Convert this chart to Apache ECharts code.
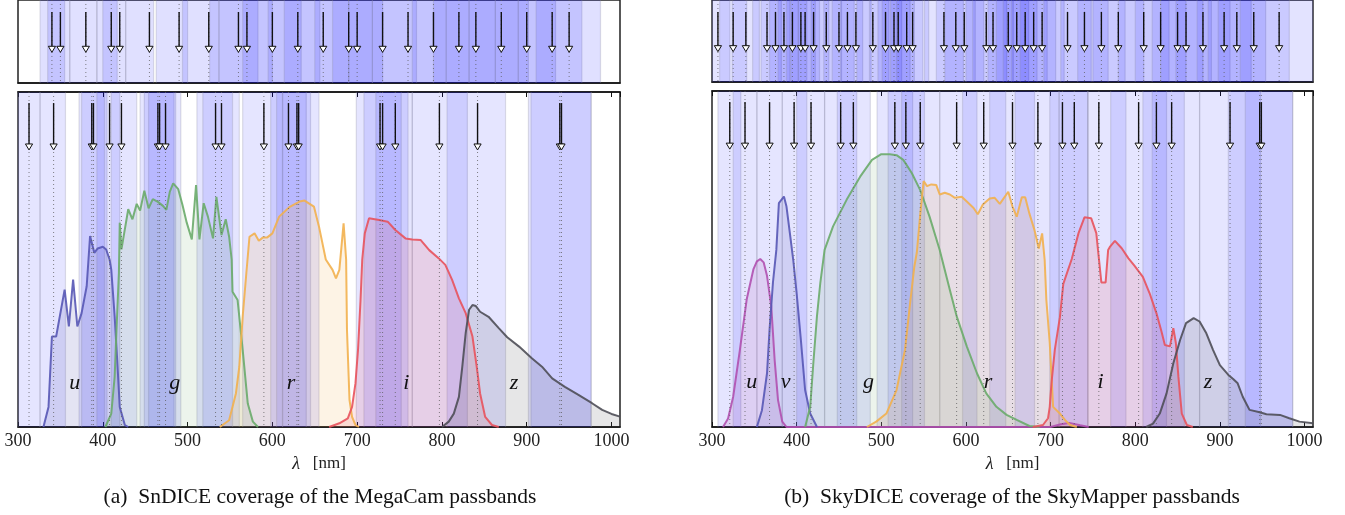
<!DOCTYPE html>
<html><head><meta charset="utf-8">
<script src="https://cdn.jsdelivr.net/npm/echarts/dist/echarts.min.js"></script>
<style>html,body{margin:0;padding:0;background:#fff}#c{width:1345px;height:515px}</style>
</head><body><div id="c"></div>
<script>
// ---------- data ----------
const xMin = 300, xMax = 1010, xStep = 100;

// SnDICE (MegaCam) LEDs, main panel: centre, band low, band high [nm]
const snMainLed = [313, 342, 387, 389, 408, 422, 465, 467, 474, 533, 540, 590, 619, 629, 631, 727, 730, 745, 797, 842, 939, 941];
const snMainLo  = [296, 326, 372, 375, 393, 410, 449, 454, 444, 511, 518, 565, 598, 605, 612, 699, 708, 722, 765, 806, 902, 905];
const snMainHi  = [326, 356, 405, 402, 420, 440, 484, 486, 492, 561, 553, 612, 640, 645, 655, 760, 752, 765, 830, 875, 976, 976];

// SnDICE top strip
const snStripLed = [340, 350, 380, 410, 420, 455, 490, 525, 560, 570, 600, 630, 660, 690, 700, 730, 760, 790, 820, 840, 870, 900, 930, 950];
const snStripLo  = [326, 335, 361, 393, 400, 427, 463, 494, 526, 537, 565, 595, 614, 650, 671, 690, 718, 765, 790, 805, 832, 863, 890, 911];
const snStripHi  = [355, 361, 393, 417, 427, 460, 500, 537, 583, 600, 634, 656, 690, 718, 730, 770, 805, 832, 863, 890, 902, 934, 965, 987];

// SkyDICE (SkyMapper) LEDs, main panel
const skyMainLed = [321, 339, 368, 397, 417, 452, 467, 516, 529, 546, 589, 621, 655, 685, 714, 728, 757, 804, 825, 843, 912, 947, 949];
const skyMainLo  = [307, 325, 353, 383, 400, 433, 448, 495, 508, 524, 569, 596, 628, 658, 699, 710, 744, 771, 809, 820, 876, 910, 930];
const skyMainHi  = [334, 353, 383, 412, 433, 471, 487, 537, 551, 569, 613, 647, 681, 710, 744, 744, 789, 837, 858, 876, 948, 986, 986];

// SkyDICE top strip: centre and half width
const skyStripLed  = [307, 325, 340, 365, 375, 385, 395, 405, 410, 420, 435, 450, 460, 470, 490, 505, 515, 520, 530, 537, 574, 588, 598, 624, 632, 650, 660, 670, 680, 690, 720, 740, 760, 780, 810, 830, 850, 860, 880, 905, 920, 940, 970];
const skyStripHalf = [14, 16, 16, 17, 17, 17, 17, 17, 17, 18, 18, 18, 18, 18, 19, 19, 19, 19, 19, 19, 23, 23, 23, 24, 24, 24, 24, 26, 26, 26, 28, 28, 28, 30, 30, 30, 30, 30, 32, 32, 34, 42, 46];

// MegaCam passbands [nm, relative transmission]
const megaU = [[330,0],[336,0.06],[340,0.27],[345,0.27],[355,0.41],[360,0.30],[365,0.44],[370,0.30],[375,0.34],[381,0.42],[385,0.57],[390,0.52],[394,0.533],[400,0.538],[404,0.53],[408,0.50],[410,0.47],[414,0.33],[417,0.20],[420,0.06],[426,0.006],[430,0]];
const megaG = [[403,0],[410,0.04],[414,0.15],[416,0.28],[419,0.46],[420,0.61],[422,0.53],[430,0.65],[435,0.62],[440,0.666],[444,0.646],[449,0.705],[454,0.653],[459,0.68],[465,0.672],[471,0.66],[475,0.648],[479,0.702],[483,0.727],[489,0.71],[494,0.663],[499,0.61],[505,0.56],[510,0.722],[514,0.56],[519,0.668],[524,0.628],[530,0.563],[534,0.687],[540,0.573],[545,0.62],[549,0.568],[552,0.5],[553,0.404],[559,0.379],[565,0.23],[571,0.07],[577,0.016],[583,0]];
const megaR = [[538,0],[549,0.02],[557,0.10],[561,0.18],[565,0.33],[569,0.45],[573,0.568],[579,0.578],[584,0.556],[589,0.566],[594,0.566],[600,0.578],[608,0.628],[620,0.656],[632,0.673],[638,0.676],[649,0.658],[655,0.598],[663,0.5],[671,0.469],[675,0.444],[679,0.469],[684,0.608],[687,0.5],[688,0.29],[691,0.08],[694,0.03],[698,0.006],[702,0]];
const megaI = [[667,0],[679,0.011],[689,0.026],[694,0.06],[698,0.13],[701,0.23],[704,0.38],[706,0.5],[709,0.578],[714,0.623],[726,0.618],[736,0.613],[745,0.588],[757,0.563],[765,0.56],[775,0.558],[785,0.528],[796,0.504],[804,0.484],[812,0.439],[820,0.384],[828,0.34],[836,0.27],[841,0.18],[845,0.10],[851,0.03],[859,0.006],[867,0]];
const megaZ = [[800,0],[808,0.016],[814,0.04],[820,0.09],[824,0.18],[828,0.28],[832,0.35],[836,0.364],[840,0.361],[845,0.344],[855,0.329],[867,0.295],[877,0.268],[891,0.24],[906,0.205],[918,0.18],[930,0.145],[945,0.12],[961,0.096],[977,0.071],[989,0.051],[1000,0.039],[1010,0.031]];

// SkyMapper passbands
const skyU = [[313,0],[319,0.025],[325,0.09],[333,0.23],[341,0.38],[349,0.47],[353,0.493],[357,0.5],[361,0.49],[365,0.45],[370,0.36],[374,0.2],[378,0.08],[383,0.016],[388,0],[700,0],[712,0.008],[722,0.012],[735,0.005],[745,0]];
const skyV = [[353,0],[359,0.05],[365,0.16],[368,0.29],[372,0.43],[376,0.527],[379,0.666],[385,0.686],[388,0.656],[392,0.577],[396,0.497],[400,0.398],[405,0.259],[410,0.11],[416,0.04],[424,0]];
const skyG = [[410,0],[416,0.06],[420,0.2],[424,0.33],[428,0.43],[433,0.527],[443,0.597],[459,0.676],[475,0.745],[489,0.795],[500,0.812],[510,0.812],[518,0.809],[526,0.795],[536,0.756],[546,0.705],[557,0.626],[569,0.527],[581,0.408],[589,0.33],[601,0.24],[613,0.16],[624,0.1],[636,0.06],[648,0.036],[660,0.021],[675,0.003],[687,0]];
const skyR = [[483,0],[494,0.016],[506,0.04],[518,0.11],[528,0.23],[534,0.368],[539,0.477],[542,0.52],[546,0.633],[550,0.732],[554,0.717],[559,0.722],[565,0.72],[569,0.692],[575,0.697],[581,0.692],[587,0.682],[595,0.685],[601,0.671],[609,0.652],[614,0.633],[620,0.662],[628,0.68],[634,0.682],[640,0.664],[650,0.7],[655,0.656],[660,0.626],[666,0.684],[670,0.684],[675,0.635],[681,0.586],[686,0.531],[690,0.576],[693,0.497],[695,0.378],[699,0.25],[703,0.06],[711,0.04],[717,0.021],[723,0.006],[731,0]];
const skyI = [[679,0],[691,0.006],[697,0.026],[699,0.06],[701,0.13],[705,0.23],[711,0.327],[715,0.426],[725,0.5],[733,0.577],[740,0.624],[748,0.621],[754,0.577],[756,0.527],[760,0.43],[765,0.43],[768,0.527],[770,0.536],[776,0.554],[784,0.532],[792,0.502],[799,0.48],[809,0.447],[817,0.398],[825,0.339],[831,0.284],[835,0.244],[841,0.24],[845,0.294],[848,0.25],[851,0.149],[855,0.04],[861,0.006],[868,0]];
const skyZ = [[813,0],[821,0.01],[829,0.04],[837,0.1],[845,0.19],[853,0.259],[860,0.309],[869,0.324],[876,0.314],[884,0.279],[892,0.229],[900,0.184],[910,0.155],[916,0.142],[921,0.13],[927,0.09],[935,0.051],[947,0.044],[955,0.038],[971,0.036],[982,0.026],[994,0.016],[1010,0.011]];

// filter labels
const megaLabels = ['u', 'g', 'r', 'i', 'z'];
const megaLabelX = [367, 485, 622, 758, 885];
const skyLabels  = ['u', 'v', 'g', 'r', 'i', 'z'];
const skyLabelX  = [347, 387, 485, 626, 759, 886];
const labelY = 0.132;

const captions = ['(a)  SnDICE coverage of the MegaCam passbands', '(b)  SkyDICE coverage of the SkyMapper passbands'];

// ---------- helpers ----------
const SERIF = '"Liberation Serif", "DejaVu Serif", serif';

function bandSeries(xi, yi, lo, hi, alpha) {
  return {
    type: 'custom', xAxisIndex: xi, yAxisIndex: yi, silent: true, z: 1,
    data: lo.map((l, i) => [l, hi[i]]),
    encode: { x: [0, 1] },
    renderItem: (params, api) => {
      const cs = params.coordSys;
      const a = api.coord([api.value(0), 0])[0];
      const b = api.coord([api.value(1), 0])[0];
      const x0 = Math.max(a, cs.x), x1 = Math.min(b, cs.x + cs.width);
      if (x1 <= x0) return null;
      const edge = { stroke: 'rgba(140,140,160,0.28)', lineWidth: 1.2 };
      return {
        type: 'group', children: [
          { type: 'rect', shape: { x: x0, y: cs.y, width: x1 - x0, height: cs.height }, style: { fill: 'rgba(0,0,255,' + alpha + ')' } },
          { type: 'line', shape: { x1: x0, y1: cs.y, x2: x0, y2: cs.y + cs.height }, style: edge },
          { type: 'line', shape: { x1: x1, y1: cs.y, x2: x1, y2: cs.y + cs.height }, style: edge }
        ]
      };
    }
  };
}

function arrowSeries(xi, yi, leds, yTop, yTip) {
  return {
    type: 'custom', xAxisIndex: xi, yAxisIndex: yi, silent: true, z: 5,
    data: leds.map(c => [c]),
    encode: { x: 0 },
    renderItem: (params, api) => {
      const cs = params.coordSys;
      const x = api.coord([api.value(0), 0])[0];
      const pTop = api.coord([api.value(0), yTop]);
      const pTip = api.coord([api.value(0), yTip]);
      const hh = 6, hw = 3.6;
      return {
        type: 'group', children: [
          { type: 'line', shape: { x1: x, y1: cs.y, x2: x, y2: cs.y + cs.height }, style: { stroke: 'rgba(90,90,90,0.75)', lineWidth: 1, lineDash: [1, 3] } },
          { type: 'line', shape: { x1: x, y1: pTop[1], x2: x, y2: pTip[1] - hh }, style: { stroke: '#111', lineWidth: 1.4 } },
          { type: 'polygon', shape: { points: [[x - hw, pTip[1] - hh], [x + hw, pTip[1] - hh], [x, pTip[1]]] }, style: { fill: '#fff', stroke: '#111', lineWidth: 1 } }
        ]
      };
    }
  };
}

function curve(xi, yi, data, color, fillOpacity) {
  return {
    type: 'line', xAxisIndex: xi, yAxisIndex: yi, data: data, symbol: 'none', silent: true, z: 3,
    lineStyle: { color: color, width: 2, opacity: 0.9 },
    itemStyle: { color: color },
    areaStyle: { color: color, opacity: fillOpacity },
    animation: false
  };
}

function labelSeries(xi, yi, names, xs) {
  return {
    type: 'custom', xAxisIndex: xi, yAxisIndex: yi, silent: true, z: 6,
    data: xs.map((x, i) => [x, labelY, i]),
    encode: { x: 0, y: 1 },
    renderItem: (params, api) => {
      const p = api.coord([api.value(0), api.value(1)]);
      return { type: 'text', x: p[0], y: p[1], style: { text: names[api.value(2)], fontFamily: SERIF, fontStyle: 'italic', fontSize: 22, fill: '#111', align: 'center', verticalAlign: 'middle' } };
    }
  };
}

function xAxisMain(gi) {
  return {
    type: 'value', gridIndex: gi, min: xMin, max: xMax, interval: xStep, position: 'bottom',
    axisLine: { lineStyle: { color: '#111', width: 1.5 } },
    axisTick: { inside: true, length: 5, lineStyle: { color: '#111' } },
    axisLabel: { fontFamily: SERIF, fontSize: 18, color: '#222', margin: 5, showMaxLabel: false, formatter: v => String(v) },
    splitLine: { show: false },
    name: '{l|λ}   [nm]', nameLocation: 'middle', nameGap: 26,
    nameTextStyle: { fontFamily: SERIF, fontSize: 17, color: '#222', rich: { l: { fontFamily: SERIF, fontStyle: 'italic', fontSize: 18, color: '#222' } } }
  };
}
function xAxisTop(gi) {
  return {
    type: 'value', gridIndex: gi, min: xMin, max: xMax, interval: xStep, position: 'top',
    axisLine: { lineStyle: { color: '#111', width: 1.5 } },
    axisTick: { inside: true, length: 5, lineStyle: { color: '#111' } },
    axisLabel: { show: false }, splitLine: { show: false }
  };
}
function xAxisStrip(gi) {
  return {
    type: 'value', gridIndex: gi, min: xMin, max: xMax, interval: xStep,
    axisLine: { lineStyle: { color: '#111', width: 1.5 } },
    axisTick: { show: false }, axisLabel: { show: false }, splitLine: { show: false }
  };
}
function yAxis(gi) {
  return { type: 'value', gridIndex: gi, min: 0, max: 1, show: false, splitLine: { show: false } };
}

const gridBase = { show: true, borderColor: '#222', borderWidth: 1.5, backgroundColor: '#fff', outerBoundsMode: 'none', containLabel: false };

const chart = echarts.init(document.getElementById('c'), null, { renderer: 'canvas' });
chart.setOption({
  animation: false,
  backgroundColor: '#fff',
  grid: [
    Object.assign({ left: 18, top: 92, width: 602, height: 335 }, gridBase),
    Object.assign({ left: 18, top: 0, width: 602, height: 83 }, gridBase),
    Object.assign({ left: 712, top: 91, width: 601, height: 336 }, gridBase),
    Object.assign({ left: 712, top: 0, width: 601, height: 82 }, gridBase)
  ],
  xAxis: [xAxisMain(0), xAxisTop(0), xAxisStrip(1), xAxisMain(2), xAxisTop(2), xAxisStrip(3)],
  yAxis: [yAxis(0), yAxis(1), yAxis(2), yAxis(3)],
  series: [
    bandSeries(0, 0, snMainLo, snMainHi, 0.1),
    bandSeries(2, 1, snStripLo, snStripHi, 0.12),
    bandSeries(3, 2, skyMainLo, skyMainHi, 0.1),
    bandSeries(5, 3, skyStripLed.map((c, i) => c - skyStripHalf[i]), skyStripLed.map((c, i) => c + skyStripHalf[i]), 0.11),

    curve(0, 0, megaU, '#5757b5', 0.16),
    curve(0, 0, megaG, '#6aab6a', 0.13),
    curve(0, 0, megaR, '#f2b04e', 0.15),
    curve(0, 0, megaI, '#e8525c', 0.15),
    curve(0, 0, megaZ, '#4e4e56', 0.14),

    curve(3, 2, skyU, '#b050b0', 0.15),
    curve(3, 2, skyV, '#5757b5', 0.15),
    curve(3, 2, skyG, '#6aab6a', 0.13),
    curve(3, 2, skyR, '#f2b04e', 0.15),
    curve(3, 2, skyI, '#e8525c', 0.15),
    curve(3, 2, skyZ, '#4e4e56', 0.14),

    arrowSeries(0, 0, snMainLed, 0.967, 0.827),
    arrowSeries(2, 1, snStripLed, 0.855, 0.37),
    arrowSeries(3, 2, skyMainLed, 0.967, 0.827),
    arrowSeries(5, 3, skyStripLed, 0.855, 0.37),

    labelSeries(0, 0, megaLabels, megaLabelX),
    labelSeries(3, 2, skyLabels, skyLabelX)
  ],
  graphic: [
    { type: 'text', style: { text: captions[0], fontFamily: SERIF, fontSize: 21.5, fill: '#111', x: 320, y: 497, align: 'center', verticalAlign: 'middle' } },
    { type: 'text', style: { text: captions[1], fontFamily: SERIF, fontSize: 21.5, fill: '#111', x: 1012, y: 497, align: 'center', verticalAlign: 'middle' } }
  ]
});
</script></body></html>
